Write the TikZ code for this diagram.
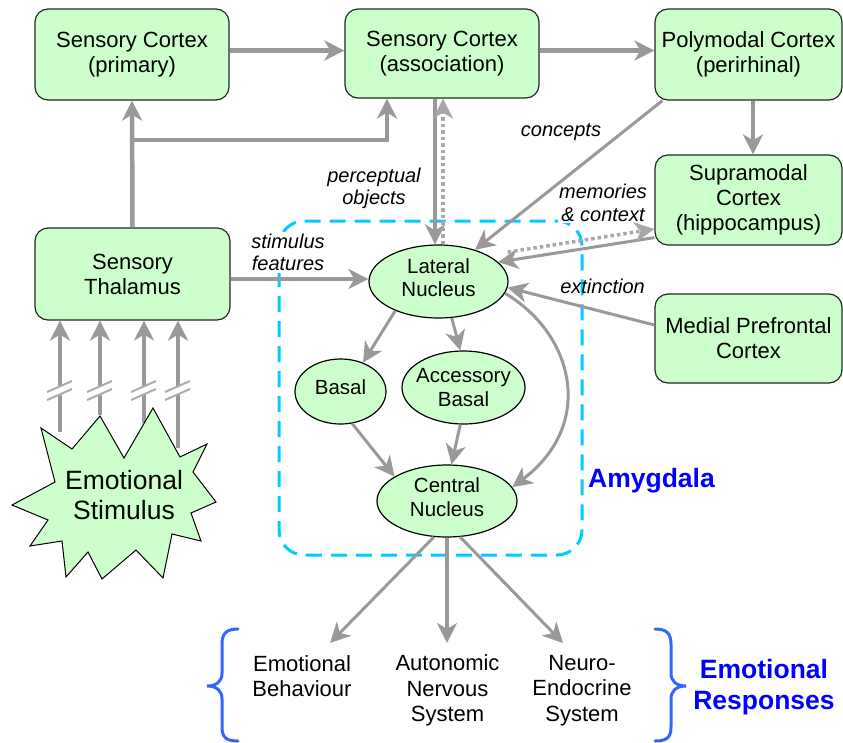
\documentclass[tikz,border=0pt]{standalone}
\usepackage{fontspec}
\setmainfont{Liberation Sans}
\usetikzlibrary{arrows.meta,shapes.geometric,calc}
\definecolor{boxfill}{HTML}{CCFFCC}
\definecolor{linkgray}{HTML}{999999}
\definecolor{amycyan}{HTML}{00CCFF}
\definecolor{bracecol}{HTML}{3366FF}
\definecolor{titleblue}{HTML}{0000FF}
\newcommand{\liftdepth}{\rule[-8pt]{0pt}{8pt}}
\tikzset{
  region/.style={draw=black!85, line width=1.2pt, fill=boxfill, rounded corners=13pt,
    align=center, inner sep=0pt, font=\fontsize{22}{25}\selectfont},
  nucleus/.style={ellipse, draw=black, line width=1.2pt, fill=boxfill, align=center,
    inner sep=0pt, font=\fontsize{20.5}{23.5}\selectfont},
  tip/.style={-{Stealth[length=20pt,width=20pt,inset=6pt]}},
  link/.style={draw=linkgray, line width=4.5pt, tip},
  thinlink/.style={link, line width=3pt},
  dots/.style={draw=linkgray!85, line width=3.5pt, dash pattern=on 3.5pt off 3pt},
  note/.style={font=\fontsize{20}{22.5}\selectfont\itshape, align=center, inner sep=0pt},
  response/.style={font=\fontsize{22}{25.5}\selectfont, align=center, inner sep=0pt},
  title/.style={font=\fontsize{26.5}{31}\selectfont\bfseries, text=titleblue, align=center, inner sep=0pt},
  brace/.style={draw=bracecol, line width=3pt, line cap=round},
  breakmark/.style={draw=linkgray!80, line width=2pt},
}
\begin{document}
\begin{tikzpicture}[x=1pt,y=-1pt]
\useasboundingbox (0,0) rectangle (843,742);

% amygdala boundary
\draw[amycyan, line width=3pt, dash pattern=on 16pt off 9pt, rounded corners=25pt]
  (279,221) rectangle (582,555);

% cortical and thalamic regions
\node[region, minimum width=194pt, minimum height=91pt] (scp) at (132,54.5) {Sensory Cortex\\(primary)};
\node[region, minimum width=194pt, minimum height=89pt] (sca) at (442,53.5) {Sensory Cortex\\(association)};
\node[region, minimum width=187pt, minimum height=91pt] (pc) at (748.5,54.5) {Polymodal Cortex\\(perirhinal)};
\node[region, minimum width=187pt, minimum height=90pt] (sup) at (748.5,200) {Supramodal\\Cortex\\(hippocampus)};
\node[region, minimum width=187pt, minimum height=89pt] (mpf) at (748.5,338.5) {Medial Prefrontal\\Cortex};
\node[region, minimum width=195pt, minimum height=92pt] (thal) at (132.5,274) {Sensory\\Thalamus};

% amygdala nuclei
\node[nucleus, minimum width=139pt, minimum height=73pt] (lat) at (438.5,281.5) {Lateral\\Nucleus\liftdepth};
\node[nucleus, minimum width=91pt, minimum height=65pt] (bas) at (340.5,391.5) {Basal\liftdepth};
\node[nucleus, minimum width=123pt, minimum height=73pt, inner xsep=-8pt] (acc) at (463.5,387.5) {Accessory\\Basal};
\node[nucleus, minimum width=140pt, minimum height=72pt] (cen) at (447,501) {Central\\Nucleus\liftdepth};

% connector labels
\node[note] (lblpo) at (374,188.3) {perceptual\\objects};
\node[note, anchor=base] (lblco) at (561,136) {concepts};
\node[note, fill=white, inner sep=1.5pt] (lblmc) at (603,202.8) {memories\\\& context};
\node[note, anchor=base] (lblex) at (602.5,293) {extinction};
\node[note, fill=white, inner sep=1.5pt] (lblsf) at (288,252.5) {stimulus\\features};
\node[title, anchor=base] (amy) at (651.5,487) {Amygdala};

% sensory inputs from the stimulus
\foreach \x/\y [count=\i] in {60/432,100/415,144/423,178/448}{
  \coordinate (s\i) at (\x,\y);
  \draw[link] (s\i) -- (s\i |- thal.south);
  \fill[white] (\x-13,392) -- (\x+12,381) -- (\x+12,389) -- (\x-13,400) -- cycle;
  \draw[breakmark] (\x-13,392) -- (\x+12,381);
  \draw[breakmark] (\x-13,400) -- (\x+12,389);
}
\filldraw[fill=boxfill, draw=black, line width=1pt]
  (41,428) -- (72,449) -- (100,416) -- (124,458) -- (153,408) -- (180,457) --
  (207,444) -- (193,472) -- (216,502) -- (191,513) -- (201,541) -- (172,534) --
  (163,578) -- (136,550) -- (102,579) -- (88,552) -- (66,577) -- (62,541) --
  (30,546) -- (48,520) -- (12,505) -- (55,482) -- cycle;
\node[font=\fontsize{26.5}{30}\selectfont, align=center, inner sep=0pt] (stim) at (124,495.5) {Emotional\\Stimulus};

% cortical pathway
\draw[link] ($(scp.east)+(0,-4)$) -- ($(sca.west)+(0,-3)$);
\draw[link] ($(sca.east)+(0,-3)$) -- ($(pc.west)+(0,-4)$);
\draw[link] (thal.north) -- (scp.south);
\coordinate (fork) at (132.5,140);
\draw[link] (fork) -| ($(sca.south)+(-55,0)$);
\draw[link] ($(pc.south)+(4.5,0)$) -- ($(sup.north)+(4.5,0)$);

% inputs to the lateral nucleus
\draw[link] ($(sca.south)+(-7,0)$) -- ($(lat.north)+(-3.5,0)$);
\draw[dots, tip] ($(lat.north)+(4.5,0)$) -- ($(sca.south)+(1,0)$);
\draw[thinlink] ($(pc.south west)+(8,0)$) -- (lat.41);
\draw[thinlink] ($(sup.south west)+(0,-8)$) -- (lat.18);
\draw[dots, tip, shorten <=20pt] (lat.28) -- ($(sup.west)+(0,29)$);
\draw[thinlink] ($(mpf.west)+(0,-13.5)$) -- (lat.-5);
\coordinate (thalout) at ($(thal.east)+(0,5)$);
\draw[link] (thalout) -- (thalout -| lat.west);

% intra-amygdala connections
\draw[thinlink] (lat.214) -- (bas.52);
\draw[thinlink] (lat.-70) -- (acc.95);
\draw[thinlink] (bas.-70) -- (cen.155);
\draw[thinlink] (acc.-95) -- (cen.83);
\draw[thinlink] (lat.-10) .. controls (575,335) and (595,425) .. (cen.12);

% outputs
\coordinate (r1) at (330,643);
\coordinate (r2) at (447,643);
\coordinate (r3) at (563,643);
\draw[thinlink] (cen.-110) -- (r1);
\draw[link] (cen.south) -- (r2);
\draw[thinlink] (cen.-70) -- (r3);

\node[response] (emb) at (302,676) {Emotional\\Behaviour};
\node[response] (ans) at (447.5,690.7) {Autonomic\\Nervous\\System};
\node[response] (nes) at (582,690.7) {Neuro-\\Endocrine\\System};
\node[title] (emr) at (764,687) {Emotional\\Responses};

% braces around the responses
\draw[brace] (238,629) .. controls (227,629) and (222,633) .. (222,644) -- (222,673)
  .. controls (222,681) and (217,686) .. (207,686)
  .. controls (217,686) and (222,691) .. (222,699) -- (222,727)
  .. controls (222,738) and (227,741) .. (238,741);
\draw[brace] (655,629) .. controls (666,629) and (671,633) .. (671,644) -- (671,673)
  .. controls (671,681) and (676,686) .. (686,686)
  .. controls (676,686) and (671,691) .. (671,699) -- (671,727)
  .. controls (671,738) and (666,741) .. (655,741);
\end{tikzpicture}
\end{document}
